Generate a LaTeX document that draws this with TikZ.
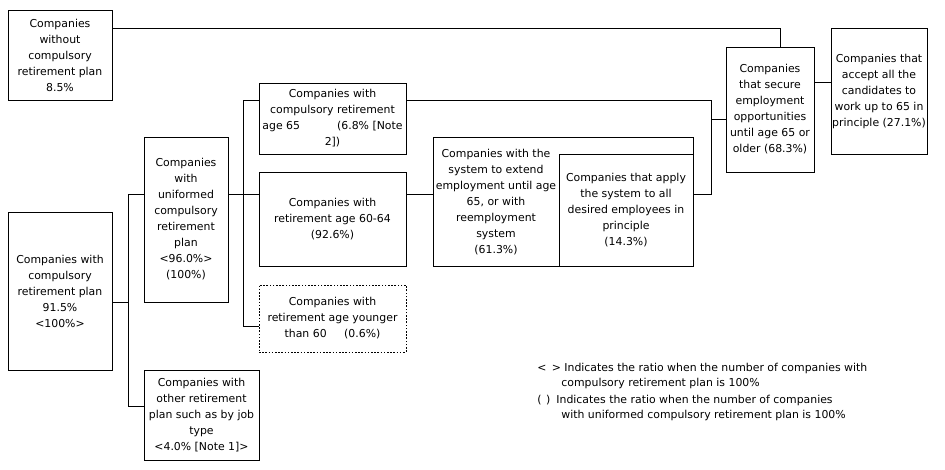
\documentclass[tikz,border=0pt]{standalone}
\usepackage{fontspec}
\setmainfont{DejaVu Sans}
\begin{document}
\begin{tikzpicture}[x=1pt,y=-1pt,line width=0.8pt,
  box/.style={draw,rectangle,inner sep=0pt,align=center,font=\fontsize{10.9}{16}\selectfont},
  dashbox/.style={box,dash pattern=on 1.6pt off 1.6pt},
  lbl/.style={inner sep=0pt,align=center,font=\fontsize{10.9}{16}\selectfont},
  leg/.style={inner sep=0pt,anchor=base west,font=\fontsize{10.9}{16}\selectfont}]
\useasboundingbox (0,0) rectangle (945,469);
% boxes
\node[box,minimum width=104,minimum height=90] (without) at (60,55)
  {Companies\\without\\compulsory\\retirement plan\\8.5\%};
\node[box,minimum width=104,minimum height=158] (comp) at (60,291)
  {Companies with\\compulsory\\retirement plan\\91.5\%\\<100\%>};
\node[box,minimum width=84,minimum height=165] (unif) at (186,219.5)
  {Companies\\with\\uniformed\\compulsory\\retirement\\plan\\<96.0\%>\\(100\%)};
\node[box,minimum width=147,minimum height=71] (age65) at (332.5,118.5)
  {Companies with\\compulsory retirement\\age 65\hspace{3.4em}(6.8\% [Note\\2])};
\node[box,minimum width=147,minimum height=94] (r6064) at (332.5,219)
  {Companies with\\retirement age 60-64\\(92.6\%)};
\node[dashbox,minimum width=147,minimum height=67] (young) at (332.5,318.5)
  {Companies with\\retirement age younger\\than 60\hspace{1.6em}(0.6\%)};
\node[box,minimum width=115,minimum height=90] (other) at (201.5,415)
  {Companies with\\other retirement\\plan such as by job\\type\\<4.0\% [Note 1]>};
\node[box,minimum width=260,minimum height=129] (extend) at (563,201.5) {};
\node[lbl] (extText) at (496,202)
  {Companies with the\\system to extend\\employment until age\\65, or with\\reemployment\\system\\(61.3\%)};
\node[box,minimum width=134,minimum height=112] (apply) at (626,210)
  {Companies that apply\\the system to all\\desired employees in\\principle\\(14.3\%)};
\node[box,minimum width=88,minimum height=125] (secure) at (770,109.5)
  {Companies\\that secure\\employment\\opportunities\\until age 65 or\\older (68.3\%)};
\node[box,minimum width=96,minimum height=126] (accept) at (879,91)
  {Companies that\\accept all the\\candidates to\\work up to 65 in\\principle (27.1\%)};
% connectors
\draw (without.east |- 0,28) -- (780,28) -- (secure.north -| 780,0);
\draw (comp.east |- 0,302) -- (128,302);
\draw (unif.west |- 0,194) -- (128,194) -- (128,406) -- (other.west |- 0,406);
\draw (unif.east |- 0,194) -- (r6064.west |- 0,194);
\draw (age65.west |- 0,100) -- (243,100) -- (243,326) -- (young.west |- 0,326);
\draw (r6064.east |- 0,194) -- (extend.west |- 0,194);
\draw (age65.east |- 0,100) -- (711,100) -- (711,194) -- (apply.east |- 0,194);
\draw (711,119) -- (secure.west |- 0,119);
\draw (secure.east |- 0,82) -- (accept.west |- 0,82);
% legend
\node[leg] (l1a) at (537,371) {<\hspace{0.5em}>};
\node[leg] (l1b) at (564,371) {Indicates the ratio when the number of companies with};
\node[leg] (l2) at (561,386) {compulsory retirement plan is 100\%};
\node[leg] (l3a) at (537,403) {(\hspace{0.4em})};
\node[leg] (l3b) at (556,403) {Indicates the ratio when the number of companies};
\node[leg] (l4) at (561,418) {with uniformed compulsory retirement plan is 100\%};
\end{tikzpicture}
\end{document}
